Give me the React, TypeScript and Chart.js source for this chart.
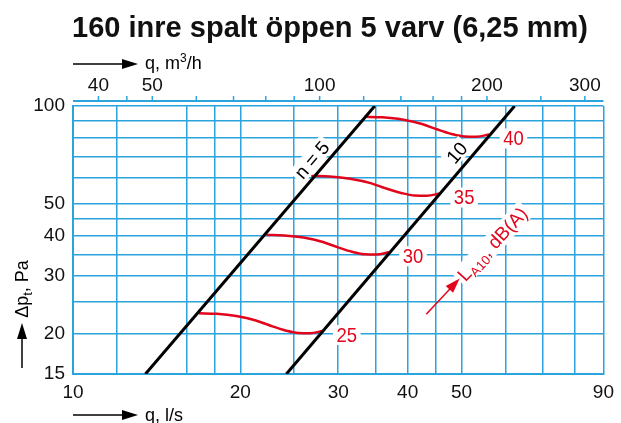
import React, { useEffect, useRef } from 'react';
import { Chart, registerables } from 'chart.js';

Chart.register(...registerables);

const titleText = '160 inre spalt öppen 5 varv (6,25 mm)';

// Axis ticks (bottom: l/s, top: m3/h, left: Pa)
const flowTicksLs = [10, 12, 16, 18, 20, 25, 30, 35, 40, 45, 50, 60, 70, 80, 90];
const flowLabelsLs = [10, 20, 30, 40, 50, 90];
const flowTicksM3h = [40, 45, 50, 60, 70, 80, 90, 100, 120, 140, 160, 180, 200, 250, 300];
const flowLabelsM3h = [40, 50, 100, 200, 300];
const pressureTicks = [15, 20, 25, 30, 35, 40, 45, 50, 60, 70, 80, 90, 100];
const pressureLabels = [15, 20, 30, 40, 50, 100];

// Damper setting lines (n = 5, n = 10)
const n5Flow = [13.5, 34.9];
const n5Pressure = [15, 100];
const n10Flow = [24.2, 62.3];
const n10Pressure = [15, 100];

// Sound level curves L_A10, dB(A)
const sound25Flow = [16.85, 18.13, 19.67, 21.33, 22.67, 24.11, 25.42, 26.7, 28.14];
const sound25Pressure = [23.05, 22.97, 22.61, 21.91, 21.1, 20.41, 20.05, 20.02, 20.34];
const sound30Flow = [22.3, 23.98, 25.98, 28.16, 29.91, 31.78, 33.47, 35.13, 37.02];
const sound30Pressure = [40.13, 39.99, 39.4, 38.19, 36.81, 35.63, 35.0, 34.95, 35.5];
const sound35Flow = [26.83, 28.95, 31.51, 34.31, 36.54, 38.95, 41.15, 43.3, 45.76];
const sound35Pressure = [60.94, 60.73, 59.79, 57.94, 55.81, 54.03, 53.07, 52.99, 53.83];
const sound40Flow = [33.45, 36.01, 39.09, 42.45, 45.13, 48.0, 50.64, 53.2, 56.12];
const sound40Pressure = [92.64, 92.31, 90.89, 88.02, 84.8, 82.03, 80.59, 80.48, 81.75];
const soundLevels = ['25', '30', '35', '40'];

// Anchor of the "L_A10, dB(A)" arrow (q l/s, Δp Pa)
const soundArrowAnchor = [43.2, 22.9];

const FONT = '"Liberation Sans", Arial, Helvetica, sans-serif';
const GRID = '#2ba4de';
const RED = '#e2061c';

const pts = (xs: number[], ys: number[]) => xs.map((x, i) => ({ x, y: ys[i] }));

function arrowRight(ctx: CanvasRenderingContext2D, x0: number, x1: number, y: number) {
  ctx.beginPath();
  ctx.moveTo(x0, y);
  ctx.lineTo(x1 - 14, y);
  ctx.stroke();
  ctx.beginPath();
  ctx.moveTo(x1, y);
  ctx.lineTo(x1 - 16, y - 5);
  ctx.lineTo(x1 - 16, y + 5);
  ctx.closePath();
  ctx.fill();
}

const annotationPlugin = {
  id: 'annotations',
  afterDraw(chart: any) {
    const { ctx, chartArea, scales } = chart;
    const x = scales.x;
    const y = scales.y;
    const x2 = scales.x2;
    ctx.save();

    // Title
    ctx.fillStyle = '#111';
    ctx.font = `bold 29px ${FONT}`;
    ctx.textAlign = 'center';
    ctx.textBaseline = 'alphabetic';
    ctx.fillText(titleText, 330, 37);

    // Top axis line + ticks
    const topY = chartArea.top - 5;
    ctx.strokeStyle = GRID;
    ctx.lineWidth = 2;
    ctx.beginPath();
    ctx.moveTo(chartArea.left, topY);
    ctx.lineTo(chartArea.right, topY);
    ctx.stroke();
    ctx.lineWidth = 1.5;
    flowTicksM3h.forEach((v) => {
      const px = x2.getPixelForValue(v);
      ctx.beginPath();
      ctx.moveTo(px, topY);
      ctx.lineTo(px, topY - 5);
      ctx.stroke();
    });

    // Axis titles with arrows
    ctx.strokeStyle = '#000';
    ctx.fillStyle = '#000';
    ctx.lineWidth = 1.5;
    arrowRight(ctx, chartArea.left, chartArea.left + 65, 64);
    arrowRight(ctx, chartArea.left, chartArea.left + 65, 415);
    ctx.textAlign = 'left';
    ctx.font = `18px ${FONT}`;
    let tx = chartArea.left + 72;
    ctx.fillText('q, m', tx, 69);
    tx += ctx.measureText('q, m').width;
    ctx.font = `12px ${FONT}`;
    ctx.fillText('3', tx, 62);
    tx += ctx.measureText('3').width;
    ctx.font = `18px ${FONT}`;
    ctx.fillText('/h', tx, 69);
    ctx.fillText('q, l/s', chartArea.left + 72, 421);

    // Y axis title (rotated) + arrow
    ctx.save();
    ctx.translate(22, 289);
    ctx.rotate(-Math.PI / 2);
    ctx.font = `18px ${FONT}`;
    const w1 = ctx.measureText('Δp').width;
    ctx.font = `13px ${FONT}`;
    const w2 = ctx.measureText('t').width;
    ctx.font = `18px ${FONT}`;
    const w3 = ctx.measureText(', Pa').width;
    let lx = -(w1 + w2 + w3) / 2;
    ctx.fillText('Δp', lx, 6);
    lx += w1;
    ctx.font = `13px ${FONT}`;
    ctx.fillText('t', lx, 10);
    lx += w2;
    ctx.font = `18px ${FONT}`;
    ctx.fillText(', Pa', lx, 6);
    ctx.restore();
    ctx.beginPath();
    ctx.moveTo(22, 368);
    ctx.lineTo(22, 337);
    ctx.stroke();
    ctx.beginPath();
    ctx.moveTo(22, 323);
    ctx.lineTo(17, 339);
    ctx.lineTo(27, 339);
    ctx.closePath();
    ctx.fill();

    // Labels along the black lines
    const lineLabel = (dsIndex: number, text: string, t: number, off: number) => {
      const m = chart.getDatasetMeta(dsIndex).data;
      const p0 = m[0], p1 = m[1];
      const a = Math.atan2(p1.y - p0.y, p1.x - p0.x);
      const fx = p0.x + (p1.x - p0.x) * t;
      const fy = p0.y + (p1.y - p0.y) * t;
      const nx = Math.sin(a), ny = -Math.cos(a);
      const cx = fx + nx * off;
      const cy = fy + ny * off;
      ctx.save();
      ctx.translate(cx, cy);
      ctx.rotate(a);
      ctx.font = `19px ${FONT}`;
      const w = ctx.measureText(text).width;
      ctx.fillStyle = '#fff';
      ctx.fillRect(-w / 2 - 3, -10, w + 6, 19);
      ctx.fillStyle = '#000';
      ctx.textAlign = 'center';
      ctx.textBaseline = 'middle';
      ctx.fillText(text, 0, 1);
      ctx.restore();
    };
    lineLabel(0, 'n = 5', 0.768, 12.5);
    lineLabel(1, '10', 0.7925, 13.5);

    // Sound level labels
    [2, 3, 4, 5].forEach((di, k) => {
      const m = chart.getDatasetMeta(di).data;
      const last = m[m.length - 1];
      const cx = last.x + 24;
      const cy = last.y + 4;
      ctx.save();
      ctx.translate(cx, cy);
      ctx.scale(0.88, 1);
      ctx.font = `21px ${FONT}`;
      const w = ctx.measureText(soundLevels[k]).width;
      ctx.fillStyle = '#fff';
      ctx.fillRect(-w / 2 - 4, -10, w + 8, 20);
      ctx.fillStyle = RED;
      ctx.textAlign = 'center';
      ctx.textBaseline = 'middle';
      ctx.fillText(soundLevels[k], 0, 1);
      ctx.restore();
    });

    // L_A10, dB(A) arrow + text
    const ax = x.getPixelForValue(soundArrowAnchor[0]);
    const ay = y.getPixelForValue(soundArrowAnchor[1]);
    const ang = (-47 * Math.PI) / 180;
    ctx.save();
    ctx.translate(ax, ay);
    ctx.rotate(ang);
    ctx.font = `19px ${FONT}`;
    const tA = ctx.measureText('L').width;
    ctx.font = `13px ${FONT}`;
    const tB = ctx.measureText('A10').width;
    ctx.font = `19px ${FONT}`;
    const tC = ctx.measureText(', dB(A)').width;
    const start = 50;
    ctx.fillStyle = '#fff';
    ctx.fillRect(start - 3, -10, tA + tB + tC + 6, 21);
    ctx.strokeStyle = RED;
    ctx.fillStyle = RED;
    ctx.lineWidth = 1.5;
    ctx.beginPath();
    ctx.moveTo(0, 0);
    ctx.lineTo(36, 0);
    ctx.stroke();
    ctx.beginPath();
    ctx.moveTo(49, 0);
    ctx.lineTo(34, -5);
    ctx.lineTo(34, 5);
    ctx.closePath();
    ctx.fill();
    ctx.textBaseline = 'alphabetic';
    ctx.textAlign = 'left';
    let sx = start;
    ctx.font = `19px ${FONT}`;
    ctx.fillText('L', sx, 7);
    sx += tA;
    ctx.font = `13px ${FONT}`;
    ctx.fillText('A10', sx, 11);
    sx += tB;
    ctx.font = `19px ${FONT}`;
    ctx.fillText(', dB(A)', sx, 7);
    ctx.restore();

    ctx.restore();
  },
};

export default function App() {
  const canvasRef = useRef<HTMLCanvasElement | null>(null);

  useEffect(() => {
    if (!canvasRef.current) return;
    const blackLine = { borderColor: '#000', borderWidth: 3, pointRadius: 0, tension: 0 };
    const redLine = { borderColor: RED, borderWidth: 2.5, pointRadius: 0, cubicInterpolationMode: 'monotone' as const };
    const tickFont = { family: FONT, size: 19 };
    const chart = new Chart(canvasRef.current, {
      type: 'line',
      data: {
        datasets: [
          { ...blackLine, data: pts(n5Flow, n5Pressure) },
          { ...blackLine, data: pts(n10Flow, n10Pressure) },
          { ...redLine, data: pts(sound25Flow, sound25Pressure) },
          { ...redLine, data: pts(sound30Flow, sound30Pressure) },
          { ...redLine, data: pts(sound35Flow, sound35Pressure) },
          { ...redLine, data: pts(sound40Flow, sound40Pressure) },
        ] as any,
      },
      options: {
        animation: false,
        responsive: false,
        devicePixelRatio: 1,
        layout: { padding: { left: 0, right: 13, top: 0, bottom: 0 } },
        plugins: { legend: { display: false }, tooltip: { enabled: false }, title: { display: false } },
        scales: {
          x: {
            type: 'logarithmic',
            position: 'bottom',
            min: 10,
            max: 90,
            afterBuildTicks: (s: any) => { s.ticks = flowTicksLs.map((v) => ({ value: v })); },
            afterFit: (s: any) => { s.height = 49; },
            ticks: {
              autoSkip: false,
              maxRotation: 0,
              padding: 7,
              color: '#111',
              font: tickFont,
              callback: (v: any) => (flowLabelsLs.includes(Number(v)) ? String(v) : ''),
            },
            grid: { color: GRID, lineWidth: 1.5, drawTicks: false },
            border: { color: GRID, width: 2 },
          },
          x2: {
            type: 'logarithmic',
            position: 'top',
            min: 36,
            max: 324,
            afterBuildTicks: (s: any) => { s.ticks = flowTicksM3h.map((v) => ({ value: v })); },
            afterFit: (s: any) => { s.height = 106; },
            ticks: {
              autoSkip: false,
              maxRotation: 0,
              padding: 9,
              color: '#111',
              font: tickFont,
              callback: (v: any) => (flowLabelsM3h.includes(Number(v)) ? String(v) : ''),
            },
            grid: { display: false, drawTicks: false, drawOnChartArea: false },
            border: { display: false },
          },
          y: {
            type: 'logarithmic',
            position: 'left',
            min: 15,
            max: 100,
            afterBuildTicks: (s: any) => { s.ticks = pressureTicks.map((v) => ({ value: v })); },
            afterFit: (s: any) => { s.width = 73; },
            ticks: {
              autoSkip: false,
              padding: 8,
              color: '#111',
              font: tickFont,
              callback: (v: any) => (pressureLabels.includes(Number(v)) ? String(v) : ''),
            },
            grid: { color: GRID, lineWidth: 1.5, drawTicks: false },
            border: { color: GRID, width: 2 },
          },
        },
      } as any,
      plugins: [annotationPlugin],
    });
    return () => chart.destroy();
  }, []);

  return (
    <div style={{ position: 'absolute', left: 0, top: 0, width: 621, height: 423, background: '#fff' }}>
      <canvas ref={canvasRef} width={621} height={423} style={{ display: 'block' }} />
    </div>
  );
}
